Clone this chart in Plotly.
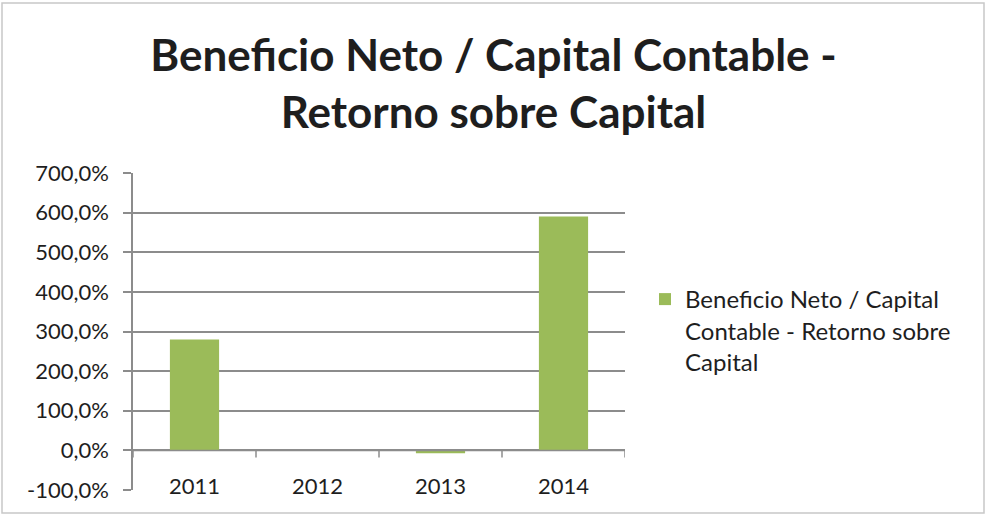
import plotly.graph_objects as go

# Return on equity by year
years = ["2011", "2012", "2013", "2014"]
roe_pct = [280.0, 0.0, -7.0, 590.0]
series_name = "Beneficio Neto / Capital<br>Contable - Retorno sobre<br>Capital"
title_text = "Beneficio Neto / Capital Contable -<br>Retorno sobre Capital"
y_ticks = [-100, 0, 100, 200, 300, 400, 500, 600, 700]
y_tick_labels = ["-100,0%", "0,0%", "100,0%", "200,0%", "300,0%",
                 "400,0%", "500,0%", "600,0%", "700,0%"]

GREEN = "#9BBB59"
GRID = "#8C8C8C"
TEXT = "#1E1E1E"
FONT = "Lato, Calibri, sans-serif"

fig = go.Figure()
fig.add_trace(go.Bar(
    x=list(range(len(years))), y=roe_pct, name=series_name,
    marker=dict(color=GREEN, line=dict(width=0)),
    width=0.4, showlegend=True,
))

shapes = []
# horizontal category axis drawn at zero, with tick marks between categories
shapes.append(dict(type="line", xref="x", yref="y", x0=-0.5, x1=len(years) - 0.5,
                   y0=0, y1=0, line=dict(color=GRID, width=1.5), layer="above"))
for k in range(len(years) + 1):
    shapes.append(dict(type="line", xref="x", yref="y", x0=k - 0.5, x1=k - 0.5,
                       y0=0, y1=-18, line=dict(color=GRID, width=1.5), layer="above"))
# outer chart border
shapes.append(dict(type="rect", xref="paper", yref="paper",
                   x0=-131 / 492, x1=(984 - 133) / 492, y0=-23 / 317, y1=(515 - 28) / 317,
                   line=dict(color="#C8C8C8", width=1.5)))

annotations = []
for i, yr in enumerate(years):
    annotations.append(dict(x=i, y=-88, xref="x", yref="y", text=yr, showarrow=False,
                            font=dict(size=22, color=TEXT, family=FONT),
                            xanchor="center", yanchor="middle"))

fig.update_layout(
    width=987, height=518,
    margin=dict(l=133, r=362, t=173, b=28),
    paper_bgcolor="white", plot_bgcolor="white",
    font=dict(family=FONT, color=TEXT, size=22),
    title=dict(text=title_text, x=0.5, xref="container", xanchor="center",
               y=1 - 71 / 518, yref="container", yanchor="middle",
               font=dict(size=44, color=TEXT, family=FONT, weight="bold")),
    xaxis=dict(range=[-0.5, len(years) - 0.5], showticklabels=False, showgrid=False,
               zeroline=False, showline=False, ticks=""),
    yaxis=dict(range=[-100, 700], tickvals=y_ticks, ticktext=y_tick_labels,
               showgrid=True, gridcolor=GRID, gridwidth=1.5, zeroline=False,
               showline=True, linecolor=GRID, linewidth=1.5,
               ticks="outside", ticklen=8, tickcolor=GRID, tickwidth=1.5,
               ticklabelstandoff=10,
               tickfont=dict(size=22, color=TEXT, family=FONT)),
    legend=dict(x=1.0 + 20 / 492, y=1 - (277 - 173) / 317, xanchor="left", yanchor="top",
                valign="top",
                font=dict(size=24, color=TEXT, family=FONT),
                itemsizing="constant", bgcolor="rgba(0,0,0,0)"),
    shapes=shapes, annotations=annotations,
    bargap=0.6,
)

fig.write_html("out.html")
